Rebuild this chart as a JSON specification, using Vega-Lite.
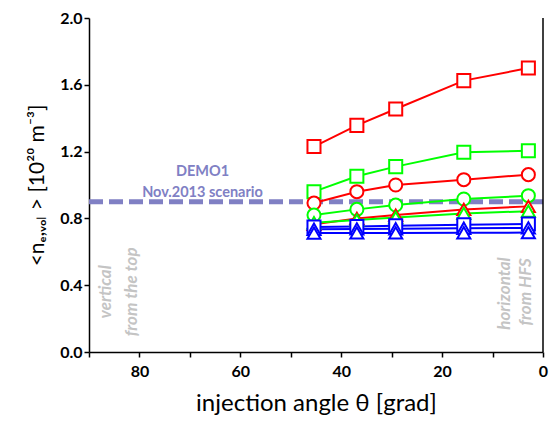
{
  "$schema": "https://vega.github.io/schema/vega-lite/v6.json",
  "autosize": {"type": "none"},
  "width": 454,
  "height": 334,
  "padding": {"left": 89, "top": 18, "right": 6, "bottom": 73},
  "background": "white",
  "config": {
    "view": {"stroke": null},
    "font": "Lato",
    "axis": {
      "grid": false,
      "domainColor": "black",
      "domainWidth": 1.5,
      "tickColor": "black",
      "tickWidth": 1.5,
      "tickSize": 5,
      "labelFont": "Lato",
      "labelFontWeight": "bold",
      "labelFontSize": 16,
      "labelColor": "black",
      "labelFlush": false,
      "labelOverlap": false,
      "titleFont": "Lato",
      "titleFontWeight": "normal",
      "titleFontSize": 24,
      "titleColor": "black"
    }
  },
  "datasets": {
    "series": [
      {"angle": 45.4, "n": 1.23, "series": "rs", "color": "#ff0000", "shape": "square"},
      {"angle": 36.9, "n": 1.357, "series": "rs", "color": "#ff0000", "shape": "square"},
      {"angle": 29.2, "n": 1.455, "series": "rs", "color": "#ff0000", "shape": "square"},
      {"angle": 15.7, "n": 1.625, "series": "rs", "color": "#ff0000", "shape": "square"},
      {"angle": 2.9, "n": 1.70, "series": "rs", "color": "#ff0000", "shape": "square"},
      {"angle": 45.4, "n": 0.96, "series": "gs", "color": "#00ff00", "shape": "square"},
      {"angle": 36.9, "n": 1.052, "series": "gs", "color": "#00ff00", "shape": "square"},
      {"angle": 29.2, "n": 1.11, "series": "gs", "color": "#00ff00", "shape": "square"},
      {"angle": 15.7, "n": 1.196, "series": "gs", "color": "#00ff00", "shape": "square"},
      {"angle": 2.9, "n": 1.205, "series": "gs", "color": "#00ff00", "shape": "square"},
      {"angle": 45.4, "n": 0.892, "series": "rc", "color": "#ff0000", "shape": "circle"},
      {"angle": 36.9, "n": 0.96, "series": "rc", "color": "#ff0000", "shape": "circle"},
      {"angle": 29.2, "n": 1.0, "series": "rc", "color": "#ff0000", "shape": "circle"},
      {"angle": 15.7, "n": 1.032, "series": "rc", "color": "#ff0000", "shape": "circle"},
      {"angle": 2.9, "n": 1.062, "series": "rc", "color": "#ff0000", "shape": "circle"},
      {"angle": 45.4, "n": 0.82, "series": "gc", "color": "#00ff00", "shape": "circle"},
      {"angle": 36.9, "n": 0.854, "series": "gc", "color": "#00ff00", "shape": "circle"},
      {"angle": 29.2, "n": 0.88, "series": "gc", "color": "#00ff00", "shape": "circle"},
      {"angle": 15.7, "n": 0.916, "series": "gc", "color": "#00ff00", "shape": "circle"},
      {"angle": 2.9, "n": 0.936, "series": "gc", "color": "#00ff00", "shape": "circle"},
      {"angle": 45.4, "n": 0.765, "series": "rt", "color": "#ff0000", "shape": "triangle-up"},
      {"angle": 36.9, "n": 0.80, "series": "rt", "color": "#ff0000", "shape": "triangle-up"},
      {"angle": 29.2, "n": 0.82, "series": "rt", "color": "#ff0000", "shape": "triangle-up"},
      {"angle": 15.7, "n": 0.854, "series": "rt", "color": "#ff0000", "shape": "triangle-up"},
      {"angle": 2.9, "n": 0.872, "series": "rt", "color": "#ff0000", "shape": "triangle-up"},
      {"angle": 45.4, "n": 0.774, "series": "gt", "color": "#00ff00", "shape": "triangle-up"},
      {"angle": 36.9, "n": 0.79, "series": "gt", "color": "#00ff00", "shape": "triangle-up"},
      {"angle": 29.2, "n": 0.805, "series": "gt", "color": "#00ff00", "shape": "triangle-up"},
      {"angle": 15.7, "n": 0.83, "series": "gt", "color": "#00ff00", "shape": "triangle-up"},
      {"angle": 2.9, "n": 0.843, "series": "gt", "color": "#00ff00", "shape": "triangle-up"},
      {"angle": 45.4, "n": 0.748, "series": "bs", "color": "#0000ff", "shape": "square"},
      {"angle": 36.9, "n": 0.752, "series": "bs", "color": "#0000ff", "shape": "square"},
      {"angle": 29.2, "n": 0.756, "series": "bs", "color": "#0000ff", "shape": "square"},
      {"angle": 15.7, "n": 0.762, "series": "bs", "color": "#0000ff", "shape": "square"},
      {"angle": 2.9, "n": 0.766, "series": "bs", "color": "#0000ff", "shape": "square"},
      {"angle": 45.4, "n": 0.735, "series": "bt1", "color": "#0000ff", "shape": "triangle-up"},
      {"angle": 36.9, "n": 0.737, "series": "bt1", "color": "#0000ff", "shape": "triangle-up"},
      {"angle": 29.2, "n": 0.738, "series": "bt1", "color": "#0000ff", "shape": "triangle-up"},
      {"angle": 15.7, "n": 0.741, "series": "bt1", "color": "#0000ff", "shape": "triangle-up"},
      {"angle": 2.9, "n": 0.743, "series": "bt1", "color": "#0000ff", "shape": "triangle-up"},
      {"angle": 45.4, "n": 0.712, "series": "bt2", "color": "#0000ff", "shape": "triangle-up"},
      {"angle": 36.9, "n": 0.713, "series": "bt2", "color": "#0000ff", "shape": "triangle-up"},
      {"angle": 29.2, "n": 0.713, "series": "bt2", "color": "#0000ff", "shape": "triangle-up"},
      {"angle": 15.7, "n": 0.714, "series": "bt2", "color": "#0000ff", "shape": "triangle-up"},
      {"angle": 2.9, "n": 0.715, "series": "bt2", "color": "#0000ff", "shape": "triangle-up"}
    ]
  },
  "layer": [
    {
      "data": {"values": [{"n": 0.9}]},
      "mark": {"type": "rule", "color": "#8080c4", "strokeWidth": 5, "strokeDash": [14, 6]},
      "encoding": {
        "y": {
          "field": "n", "type": "quantitative",
          "scale": {"domain": [0, 2], "nice": false},
          "axis": {
            "title": "<nₑ,ᵥₒₗ > [10²⁰ m⁻³]",
            "titleFontSize": 21,
            "values": [0, 0.2, 0.4, 0.6, 0.8, 1.0, 1.2, 1.4, 1.6, 1.8, 2.0],
            "labelExpr": "round(datum.value * 10) % 4 == 0 ? format(datum.value, '.1f') : ''",
            "labelPadding": 2,
            "titlePadding": 12
          }
        }
      }
    },
    {
      "data": {"name": "series"},
      "mark": {"type": "line", "strokeWidth": 2},
      "encoding": {
        "x": {
          "field": "angle", "type": "quantitative",
          "scale": {"domain": [0, 90], "reverse": true, "nice": false, "zero": false},
          "axis": {
            "title": "injection angle θ [grad]",
            "values": [0, 10, 20, 30, 40, 50, 60, 70, 80, 90],
            "labelExpr": "datum.value % 20 == 0 ? datum.label : ''",
            "labelPadding": 6,
            "titlePadding": 12
          }
        },
        "y": {"field": "n", "type": "quantitative"},
        "detail": {"field": "series"},
        "stroke": {"field": "color", "type": "nominal", "scale": null}
      }
    },
    {
      "data": {"name": "series"},
      "mark": {"type": "point", "filled": false, "fill": "white", "strokeWidth": 2, "size": 170, "opacity": 1},
      "encoding": {
        "x": {"field": "angle", "type": "quantitative"},
        "y": {"field": "n", "type": "quantitative"},
        "stroke": {"field": "color", "type": "nominal", "scale": null},
        "shape": {"field": "shape", "type": "nominal", "scale": null}
      }
    },
    {
      "data": {"values": [{"angle": 0}]},
      "mark": {"type": "rule", "color": "black", "strokeWidth": 1.5},
      "encoding": {"x": {"field": "angle", "type": "quantitative"}}
    },
    {
      "data": {"values": [
        {"angle": 67.5, "n": 1.075, "label": "DEMO1"},
        {"angle": 67.5, "n": 0.955, "label": "Nov.2013 scenario"}
      ]},
      "mark": {"type": "text", "color": "#8080c4", "fontWeight": "bold", "fontSize": 14.5, "align": "center", "baseline": "middle"},
      "encoding": {
        "x": {"field": "angle", "type": "quantitative"},
        "y": {"field": "n", "type": "quantitative"},
        "text": {"field": "label"}
      }
    },
    {
      "data": {"values": [
        {"angle": 86.7, "n": 0.36, "label": "vertical"},
        {"angle": 81.4, "n": 0.36, "label": "from the top"},
        {"angle": 7.6, "n": 0.35, "label": "horizontal"},
        {"angle": 3.3, "n": 0.36, "label": "from HFS"}
      ]},
      "mark": {"type": "text", "color": "#c4c4c4", "fontWeight": "bold", "fontStyle": "italic", "fontSize": 17, "angle": 270, "align": "center", "baseline": "middle"},
      "encoding": {
        "x": {"field": "angle", "type": "quantitative"},
        "y": {"field": "n", "type": "quantitative"},
        "text": {"field": "label"}
      }
    }
  ]
}
